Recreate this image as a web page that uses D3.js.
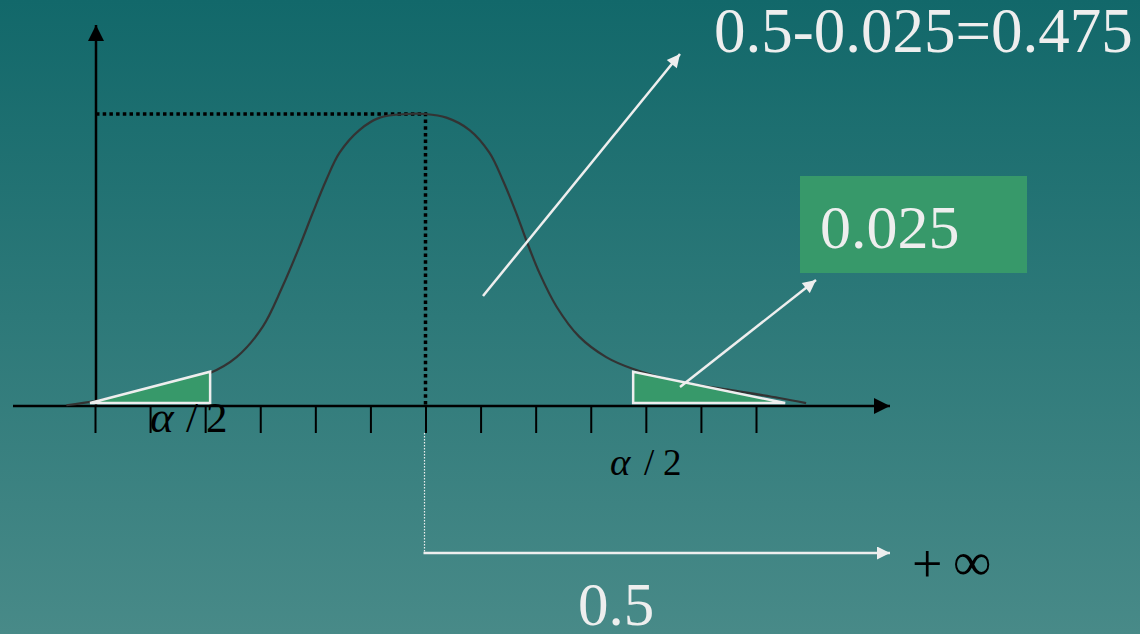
<!DOCTYPE html>
<html>
<head>
<meta charset="utf-8">
<script src="https://cdn.jsdelivr.net/npm/d3@7"></script>
<style>
  body { margin: 0; }
  svg { display: block; }
</style>
</head>
<body>
<div id="chart"></div>
<script>
// bell curve: x in tick units, y as density
var curveX = [-6.52, -5.97, -5.01, -3.92, -3.43, -2.96, -2.60, -2.29, -2.05, -1.80, -1.56, -1.20, -0.83, -0.34, 0,
              0.38, 0.80, 1.16, 1.40, 1.65, 1.83, 2.07, 2.38, 2.79, 3.28, 3.76, 4.61, 5.52, 6.42, 6.91];
var curveY = [0.001, 0.007, 0.022, 0.045, 0.067, 0.108, 0.163, 0.218, 0.264, 0.310, 0.347, 0.378, 0.395, 0.400, 0.400,
              0.395, 0.378, 0.347, 0.310, 0.264, 0.227, 0.182, 0.136, 0.095, 0.067, 0.051, 0.033, 0.022, 0.011, 0.004];

var tickValues = [-6, -5, -4, -3, -2, -1, 0, 1, 2, 3, 4, 5, 6];

// the two shaded tails (triangles)
var leftTailX = [-6.09, -3.91, -3.91];
var leftTailY = [0.004, 0.047, 0.004];
var rightTailX = [3.77, 3.77, 6.53];
var rightTailY = [0.047, 0.004, 0.004];

var peakX = 0, peakY = 0.4;

var titleText = "0.5-0.025=0.475";
var tailText = "0.025";
var halfText = "0.5";

const width = 1140, height = 634;

var svg = d3.select("#chart")
    .append("svg")
    .attr("width", width)
    .attr("height", height);

var defs = svg.append("defs");
var grad = defs.append("linearGradient")
    .attr("id", "bg")
    .attr("x1", 0).attr("y1", 0).attr("x2", 0).attr("y2", 1);
grad.append("stop").attr("offset", "0%").attr("stop-color", "#12686a");
grad.append("stop").attr("offset", "100%").attr("stop-color", "#488a88");

function marker(id, color, w, h) {
    defs.append("marker")
        .attr("id", id)
        .attr("viewBox", "0 0 10 10")
        .attr("refX", 10).attr("refY", 5)
        .attr("markerUnits", "userSpaceOnUse")
        .attr("markerWidth", w).attr("markerHeight", h)
        .attr("orient", "auto")
        .append("path")
        .attr("d", "M0,0L10,5L0,10Z")
        .attr("fill", color);
}
marker("blackHead", "#000", 16, 16);
marker("whiteHead", "#eeeeee", 15, 13);

svg.append("rect")
    .attr("width", width).attr("height", height)
    .attr("fill", "url(#bg)");

// scales
var x = d3.scaleLinear().domain([-6, 6]).range([95, 756]);
var y = d3.scaleLinear().domain([0, 0.4]).range([406, 114]);

// axes with arrows
svg.append("line")
    .attr("x1", 13).attr("y1", y(0)).attr("x2", 890).attr("y2", y(0))
    .attr("stroke", "#000").attr("stroke-width", 2.5)
    .attr("marker-end", "url(#blackHead)");
svg.append("line")
    .attr("x1", 96).attr("y1", y(0)).attr("x2", 96).attr("y2", 25)
    .attr("stroke", "#000").attr("stroke-width", 2.5)
    .attr("marker-end", "url(#blackHead)");

var xAxis = svg.append("g")
    .attr("transform", "translate(0," + y(0) + ")")
    .call(d3.axisBottom(x).tickValues(tickValues).tickSize(27).tickFormat(""));
xAxis.select(".domain").remove();
xAxis.selectAll(".tick line").attr("stroke", "#000").attr("stroke-width", 2);

// dotted guides to the peak
svg.append("path")
    .attr("d", "M" + 96 + "," + y(peakY) + "H" + x(peakX) + "V" + y(0))
    .attr("fill", "none")
    .attr("stroke", "#000")
    .attr("stroke-width", 3.5)
    .attr("stroke-dasharray", "3.5,3.2");

// curve
var curvePts = curveX.map(function (d, i) { return [d, curveY[i]]; });
var line = d3.line()
    .x(function (d) { return x(d[0]); })
    .y(function (d) { return y(d[1]); })
    .curve(d3.curveCatmullRom.alpha(0.5));
svg.append("path")
    .datum(curvePts)
    .attr("d", line)
    .attr("fill", "none")
    .attr("stroke", "#333333")
    .attr("stroke-width", 2.2);

// tails
function tri(xs, ys) {
    return xs.map(function (d, i) { return [x(d), y(ys[i])]; });
}
[tri(leftTailX, leftTailY), tri(rightTailX, rightTailY)].forEach(function (pts) {
    svg.append("path")
        .attr("d", "M" + pts.join("L") + "Z")
        .attr("fill", "#37996a")
        .attr("stroke", "#eeeeee")
        .attr("stroke-width", 2.5)
        .attr("stroke-linejoin", "miter");
});

// white arrows
svg.append("line")
    .attr("x1", 483).attr("y1", 296).attr("x2", 680).attr("y2", 54)
    .attr("stroke", "#eeeeee").attr("stroke-width", 2.5)
    .attr("marker-end", "url(#whiteHead)");
svg.append("line")
    .attr("x1", 680).attr("y1", 387).attr("x2", 816).attr("y2", 280)
    .attr("stroke", "#eeeeee").attr("stroke-width", 2.5)
    .attr("marker-end", "url(#whiteHead)");

// from the mean to +inf
svg.append("line")
    .attr("x1", x(peakX) - 1).attr("y1", 433).attr("x2", x(peakX) - 1).attr("y2", 553)
    .attr("stroke", "#eeeeee").attr("stroke-width", 1.2)
    .attr("stroke-dasharray", "1.5,1.5");
svg.append("line")
    .attr("x1", x(peakX) - 2).attr("y1", 553).attr("x2", 890).attr("y2", 553)
    .attr("stroke", "#eeeeee").attr("stroke-width", 2.5)
    .attr("marker-end", "url(#whiteHead)");

// green box
svg.append("rect")
    .attr("x", 800).attr("y", 176).attr("width", 227).attr("height", 97)
    .attr("fill", "#37996a");

var font = "'Liberation Serif', 'Times New Roman', serif";

svg.append("text")
    .attr("x", 714).attr("y", 52)
    .attr("font-family", font).attr("font-size", 63)
    .attr("fill", "#eeeeee")
    .text(titleText);

svg.append("text")
    .attr("x", 820).attr("y", 248)
    .attr("font-family", font).attr("font-size", 62)
    .attr("fill", "#eeeeee")
    .text(tailText);

svg.append("text")
    .attr("x", 578).attr("y", 625)
    .attr("font-family", font).attr("font-size", 61)
    .attr("fill", "#eeeeee")
    .text(halfText);

// +inf, the two signs set apart
svg.append("text")
    .attr("x", 912).attr("y", 582)
    .attr("font-family", font).attr("font-size", 54)
    .attr("fill", "#000")
    .text("+");
svg.append("text")
    .attr("x", 953).attr("y", 580)
    .attr("font-family", font).attr("font-size", 54)
    .attr("fill", "#000")
    .text("\u221e");

function alphaLabel(xs, py, size) {
    var g = svg.append("g")
        .attr("font-family", font).attr("font-size", size)
        .attr("fill", "#000");
    g.append("text").attr("x", xs[0]).attr("y", py)
        .attr("font-style", "italic").attr("font-size", size * 1.05).text("\u03b1");
    g.append("text").attr("x", xs[1]).attr("y", py).text("/");
    g.append("text").attr("x", xs[2]).attr("y", py).text("2");
}
alphaLabel([150, 186, 206], 432, 43);
alphaLabel([610, 644, 663], 475, 37);
</script>
</body>
</html>
